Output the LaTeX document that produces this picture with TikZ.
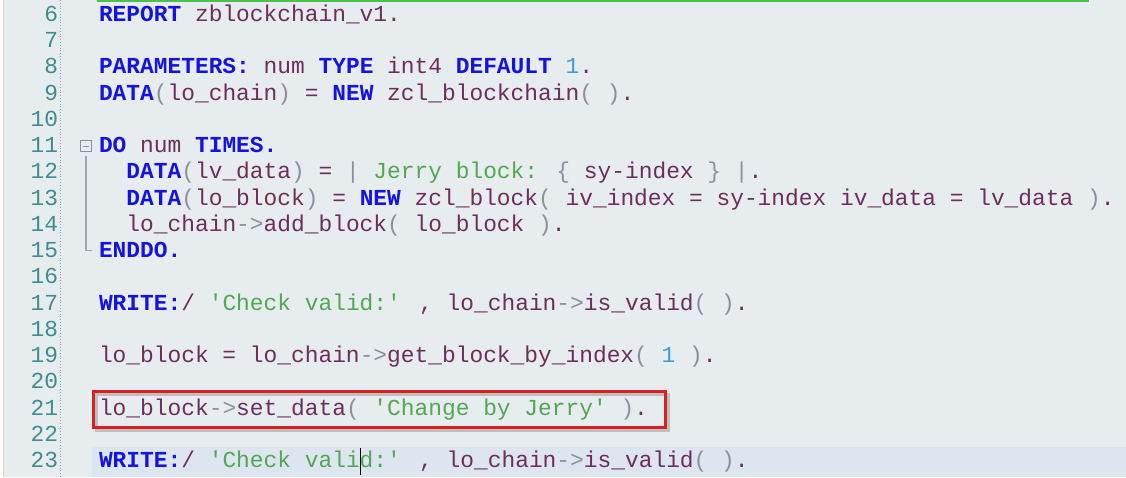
\documentclass[tikz,border=0pt]{standalone}
\usepackage{fontspec}
\newfontfamily\codefont{Liberation Mono}
\definecolor{bgc}{HTML}{E7ECEF}
\definecolor{hlc}{HTML}{DDE6F0}
\definecolor{kwc}{HTML}{1414E0}
\definecolor{idc}{HTML}{6E2E5C}
\definecolor{grc}{HTML}{8E8E9E}
\definecolor{strc}{HTML}{52A852}
\definecolor{numc}{HTML}{3C9BE0}
\definecolor{lnc}{HTML}{3E8E8E}
\definecolor{redc}{HTML}{D82020}
\definecolor{grnc}{HTML}{4CC04C}
\newcommand{\Kw}[1]{\textcolor{kwc}{\bfseries #1}}
\newcommand{\Id}[1]{\textcolor{idc}{#1}}
\newcommand{\Gr}[1]{\textcolor{grc}{#1}}
\newcommand{\St}[1]{\textcolor{strc}{#1}}
\newcommand{\Nm}[1]{\textcolor{numc}{#1}}
\tikzset{
  codeline/.style={anchor=base west, inner sep=0pt, outer sep=0pt, font=\codefont\fontsize{22.87}{26}\selectfont},
  lineno/.style={anchor=base east, inner sep=0pt, outer sep=0pt, text=lnc, font=\codefont\fontsize{22.87}{26}\selectfont},
}
\begin{document}
\begin{tikzpicture}[x=1pt,y=-1pt]
\useasboundingbox (0,0) rectangle (1126,477);
\fill[bgc] (0,0) rectangle (1126,477);
\fill[white!90!bgc] (0,0) rectangle (2.5,477);
\draw[color=brown!35!white, line width=1.2pt] (3.3,0) -- (3.3,477);
\fill[hlc] (92,447) rectangle (1126,477);
\draw[lnc!70!white, line width=0.8pt, dotted] (60,0) -- (60,477);
\draw[grnc, line width=2.5pt] (97,0.5) -- (1089,0.5);
% line numbers
\foreach \n in {6,...,23}{
  \node[lineno] (N\n) at (58,{21.5+(\n-6)*26.24}) {\n};
}
% code lines
\def\cx{99}
\node[codeline] (L6) at (\cx,21.5) {\Kw{REPORT} \Id{zblockchain\_v1.}};
\node[codeline] (L8) at (\cx,{21.5+2*26.24}) {\Kw{PARAMETERS:} \Id{num} \Kw{TYPE} \Id{int4} \Kw{DEFAULT} \Nm{1}\Id{.}};
\node[codeline] (L9) at (\cx,{21.5+3*26.24}) {\Kw{DATA}\Gr{(}\Id{lo\_chain}\Gr{)} \Id{=} \Kw{NEW} \Id{zcl\_blockchain}\Gr{(~)}\Id{.}};
\node[codeline] (L11) at (\cx,{21.5+5*26.24}) {\Kw{DO} \Id{num} \Kw{TIMES.}};
\node[codeline] (L12) at (\cx,{21.5+6*26.24}) {~~\Kw{DATA}\Gr{(}\Id{lv\_data}\Gr{)} \Id{=} \Gr{|} \St{Jerry block:} \Gr{\{} \Id{sy-index} \Gr{\}} \Gr{|}\Id{.}};
\node[codeline] (L13) at (\cx,{21.5+7*26.24}) {~~\Kw{DATA}\Gr{(}\Id{lo\_block}\Gr{)} \Id{=} \Kw{NEW} \Id{zcl\_block}\Gr{(} \Id{iv\_index = sy-index iv\_data = lv\_data} \Gr{)}\Id{.}};
\node[codeline] (L14) at (\cx,{21.5+8*26.24}) {~~\Id{lo\_chain}\Gr{->}\Id{add\_block}\Gr{(} \Id{lo\_block} \Gr{)}\Id{.}};
\node[codeline] (L15) at (\cx,{21.5+9*26.24}) {\Kw{ENDDO.}};
\node[codeline] (L17) at (\cx,{21.5+11*26.24}) {\Kw{WRITE:}\Id{/} \St{'Check valid:'} \Id{,} \Id{lo\_chain}\Gr{->}\Id{is\_valid}\Gr{(~)}\Id{.}};
\node[codeline] (L19) at (\cx,{21.5+13*26.24}) {\Id{lo\_block = lo\_chain}\Gr{->}\Id{get\_block\_by\_index}\Gr{(} \Nm{1} \Gr{)}\Id{.}};
\node[codeline] (L21) at (\cx,{21.5+15*26.24}) {\Id{lo\_block}\Gr{->}\Id{set\_data}\Gr{(} \St{'Change by Jerry'} \Gr{)}\Id{.}};
\node[codeline] (L23) at (\cx,{21.5+17*26.24}) {\Kw{WRITE:}\Id{/} \St{'Check valid:'} \Id{,} \Id{lo\_chain}\Gr{->}\Id{is\_valid}\Gr{(~)}\Id{.}};
% fold marker
\node[draw=grc, fill=bgc, line width=0.8pt, minimum width=11pt, minimum height=11pt, inner sep=0pt] (fold) at (86,146) {};
\draw[grc, line width=0.8pt] ([xshift=-3pt]fold.center) -- ([xshift=3pt]fold.center);
\coordinate (foldend) at (92,250.5);
\draw[grc!80!white, line width=1.2pt] ([yshift=-4pt]fold.south) -- (fold.south |- foldend) -- (foldend);
% cursor
\draw[black, line width=1.6pt] (360.5,448) -- (360.5,475);
% red highlight box
\draw[black!25, line width=3pt] (96,394) rectangle (668,430);
\node[draw=redc, line width=3pt, fill=none, inner sep=0pt, minimum width=572pt, minimum height=36pt] (box) at (379,409) {};
\end{tikzpicture}
\end{document}
